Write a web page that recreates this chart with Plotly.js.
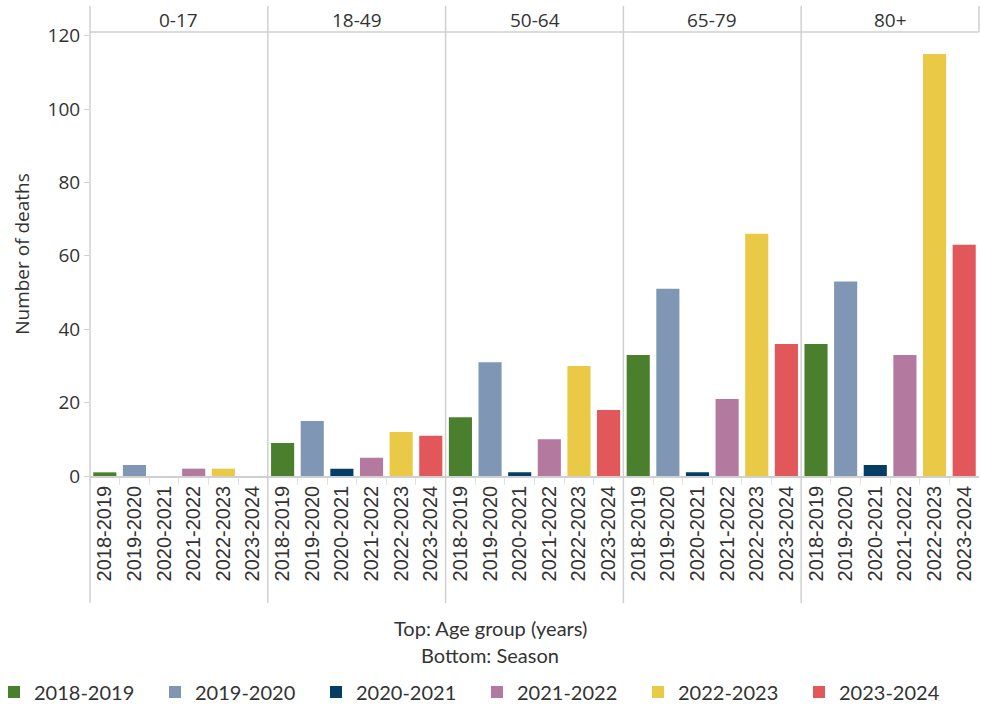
<!DOCTYPE html>
<html>
<head>
<meta charset="utf-8">
<script src="https://cdn.plot.ly/plotly-3.0.1.min.js"></script>
<style>html,body{margin:0;padding:0;background:#fff;}#chart{width:981px;height:706px;}</style>
</head>
<body>
<div id="chart"></div>
<script>
// ---- data ----
var ageGroups = ["0-17", "18-49", "50-64", "65-79", "80+"];
var seasons = ["2018-2019", "2019-2020", "2020-2021", "2021-2022", "2022-2023", "2023-2024"];
// deaths per season, ordered by age group
var deaths_2018_2019 = [1, 9, 16, 33, 36];
var deaths_2019_2020 = [3, 15, 31, 51, 53];
var deaths_2020_2021 = [0, 2, 1, 1, 3];
var deaths_2021_2022 = [2, 5, 10, 21, 33];
var deaths_2022_2023 = [2, 12, 30, 66, 115];
var deaths_2023_2024 = [0, 11, 18, 36, 63];
var yTicks = [0, 20, 40, 60, 80, 100, 120];

var seriesValues = [deaths_2018_2019, deaths_2019_2020, deaths_2020_2021, deaths_2021_2022, deaths_2022_2023, deaths_2023_2024];
var colors = ["#4A802D", "#7F97B5", "#053D66", "#B3799F", "#EAC946", "#E1575A"];

var W = 981, H = 706, ml = 90, mr = 2, mt = 32, mb = 230;
var plotW = W - ml - mr, plotH = H - mt - mb;
function px2x(p) { return (p - ml) / plotW; }
function px2y(p) { return (H - mb - p) / plotH; }

var traces = [];
ageGroups.forEach(function (ag, p) {
  seasons.forEach(function (s, i) {
    traces.push({
      type: "bar",
      x: [s],
      y: [seriesValues[i][p]],
      xaxis: "x" + (p === 0 ? "" : (p + 1)),
      yaxis: "y",
      name: s,
      legendgroup: s,
      showlegend: p === 0,
      marker: { color: colors[i], line: { width: 0 } },
      hovertemplate: ag + "<br>" + s + ": %{y}<extra></extra>"
    });
  });
});

var tickFont = { family: "Arial", size: 20, color: "#333" };
var layout = {
  width: W, height: H,
  margin: { l: ml, r: mr, t: mt, b: mb, pad: 0, autoexpand: false },
  paper_bgcolor: "#fff", plot_bgcolor: "#fff",
  barmode: "overlay",
  bargap: 0.22,
  showlegend: true,
  legend: {
    orientation: "h",
    x: px2x(-6), xanchor: "left",
    y: px2y(692), yanchor: "middle",
    font: { family: "Lato, sans-serif", size: 20, color: "#333" },
    entrywidth: 116, entrywidthmode: "pixels",
    traceorder: "normal",
    itemclick: false, itemdoubleclick: false
  },
  yaxis: {
    range: [0, 121],
    tickvals: yTicks,
    ticktext: yTicks.map(String),
    ticks: "outside", ticklen: 5, tickcolor: "#d0d0d0",
    tickfont: { family: "Open Sans, sans-serif", size: 19, color: "#333" },
    showgrid: false, zeroline: false, showline: false,
    title: { text: "Number of deaths", font: { family: "Open Sans, sans-serif", size: 19, color: "#333" }, standoff: 12 },
    fixedrange: true
  },
  shapes: [],
  annotations: []
};

ageGroups.forEach(function (ag, p) {
  var key = "xaxis" + (p === 0 ? "" : (p + 1));
  layout[key] = {
    domain: [p / 5, (p + 1) / 5],
    anchor: "y",
    type: "category",
    categoryorder: "array",
    categoryarray: seasons,
    range: [-0.5, seasons.length - 0.5],
    tickangle: -90,
    tickfont: tickFont,
    ticks: "outside", tickson: "boundaries", ticklen: 7, tickcolor: "#e2e2e2",
    showgrid: false, zeroline: false,
    showline: true, linecolor: "#d0d0d0", linewidth: 1.5,
    automargin: false,
    fixedrange: true
  };
  layout.annotations.push({
    xref: "paper", yref: "paper",
    x: (p + 0.5) / 5, y: px2y(20),
    xanchor: "center", yanchor: "middle",
    text: ag, showarrow: false,
    font: { family: "Open Sans, sans-serif", size: 19, color: "#333" }
  });
  layout.shapes.push({
    type: "line", xref: "paper", yref: "paper",
    x0: p / 5, x1: p / 5, y0: px2y(603), y1: px2y(6),
    line: { color: "#d0d0d0", width: 1.5 }
  });
});
// right edge of header band
layout.shapes.push({
  type: "line", xref: "paper", yref: "paper",
  x0: 1, x1: 1, y0: 1, y1: px2y(6),
  line: { color: "#d0d0d0", width: 1.5 }
});
// header band bottom line
layout.shapes.push({
  type: "line", xref: "paper", yref: "paper",
  x0: 0, x1: 1, y0: 1, y1: 1,
  line: { color: "#d0d0d0", width: 1.5 }
});

layout.annotations.push({
  xref: "paper", yref: "paper", x: px2x(490), y: px2y(628),
  xanchor: "center", yanchor: "middle", showarrow: false,
  text: "Top: Age group (years)",
  font: { family: "Lato, sans-serif", size: 20, color: "#333" }
});
layout.annotations.push({
  xref: "paper", yref: "paper", x: px2x(490), y: px2y(655),
  xanchor: "center", yanchor: "middle", showarrow: false,
  text: "Bottom: Season",
  font: { family: "Lato, sans-serif", size: 20, color: "#333" }
});

Plotly.newPlot("chart", traces, layout, { displayModeBar: false, staticPlot: false });
</script>
</body>
</html>
